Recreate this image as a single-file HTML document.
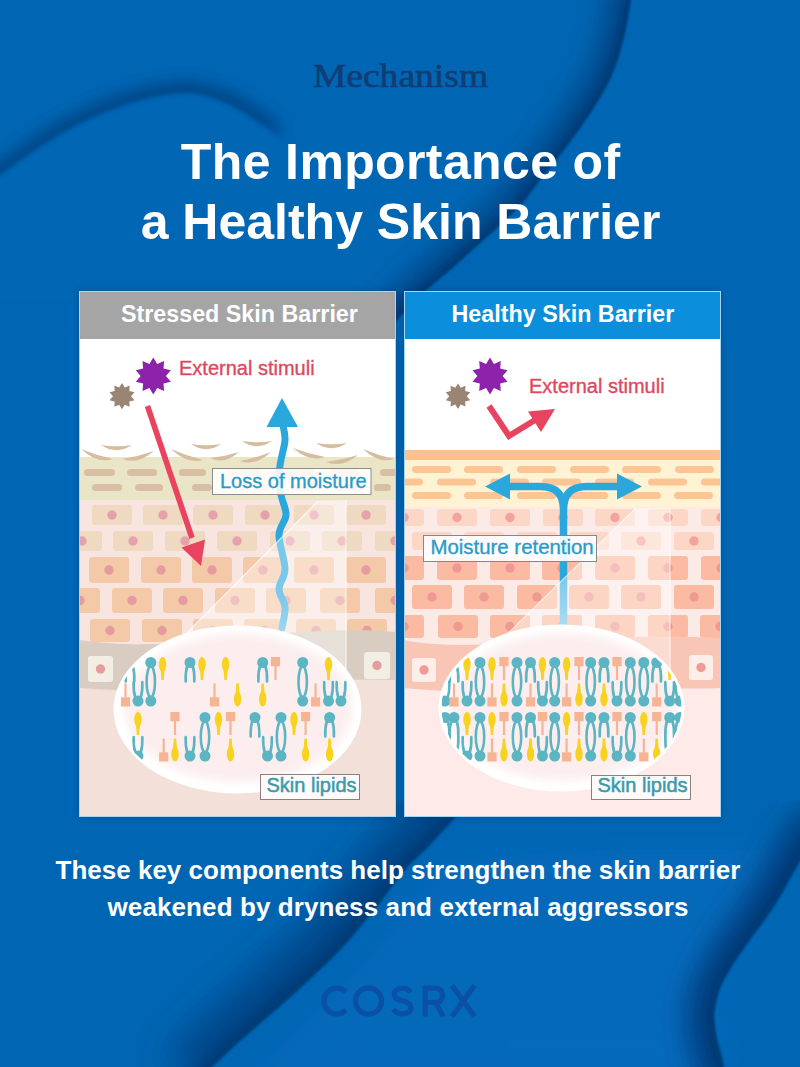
<!DOCTYPE html>
<html><head><meta charset="utf-8"><style>
html,body{margin:0;padding:0;background:#0066B3;}
body{width:800px;height:1067px;overflow:hidden;font-family:"Liberation Sans",sans-serif;}
svg{display:block}
</style></head><body>
<svg width="800" height="1067" viewBox="0 0 800 1067">

<defs>
 <filter id="b6" filterUnits="userSpaceOnUse" x="-200" y="-200" width="1200" height="1500"><feGaussianBlur stdDeviation="6"/></filter>
 <filter id="b10" filterUnits="userSpaceOnUse" x="-200" y="-200" width="1200" height="1500"><feGaussianBlur stdDeviation="10"/></filter>
 <filter id="b8" filterUnits="userSpaceOnUse" x="-200" y="-200" width="1200" height="1500"><feGaussianBlur stdDeviation="8"/></filter>
 <filter id="b14" filterUnits="userSpaceOnUse" x="-200" y="-200" width="1200" height="1500"><feGaussianBlur stdDeviation="14"/></filter>
 <filter id="b12" filterUnits="userSpaceOnUse" x="-200" y="-200" width="1200" height="1500"><feGaussianBlur stdDeviation="12"/></filter>
 <filter id="b20" filterUnits="userSpaceOnUse" x="-200" y="-200" width="1200" height="1500"><feGaussianBlur stdDeviation="20"/></filter>
 <filter id="b3" filterUnits="userSpaceOnUse" x="-200" y="-200" width="1200" height="1500"><feGaussianBlur stdDeviation="3"/></filter>
 <filter id="b05" filterUnits="userSpaceOnUse" x="-200" y="-200" width="1200" height="1500"><feGaussianBlur stdDeviation="0.6"/></filter>
 <filter id="b4" filterUnits="userSpaceOnUse" x="-200" y="-200" width="1200" height="1500"><feGaussianBlur stdDeviation="4"/></filter>
 <filter id="b2" filterUnits="userSpaceOnUse" x="-200" y="-200" width="1200" height="1500"><feGaussianBlur stdDeviation="2.2"/></filter>
 <filter id="b1" filterUnits="userSpaceOnUse" x="-200" y="-200" width="1200" height="1500"><feGaussianBlur stdDeviation="1.2"/></filter>
</defs>
<rect width="800" height="1067" fill="#0066B3"/>
<!-- soft light region in the middle/top-left -->
<path d="M0 176 C60 136 120 100 187 93 C240 100 300 150 360 190 C400 230 420 270 416 300 L0 300 Z" fill="#0B6DC2" filter="url(#b20)" opacity="0.12"/>
<path d="M180 0 H631 C625 60 600 105 570 145 C540 190 500 230 416 300 C380 250 330 160 280 100 C250 60 200 20 180 0Z" fill="none"/>
<!-- top-left fold: sharp on lower side -->
<clipPath id="cf1"><path d="M-20 -20 H330 V200 C300 160 280 135 255 120 C235 106 212 94 187 93 C150 94 110 108 75 126 C45 142 20 160 -20 190 Z"/></clipPath>
<g filter="url(#b2)"><g clip-path="url(#cf1)"><path d="M-20 190 C20 160 45 142 75 126 C110 108 150 94 187 93 C212 94 235 106 255 120 C262 125 268 130 274 136" fill="none" stroke="#003C7A" stroke-width="22" filter="url(#b8)" opacity="0.85"/></g></g>
<!-- big arc: sharp on right side -->
<clipPath id="cf2"><path d="M633 -20 C632.7 -16.7 632.5 -9.5 631 0 C629.5 9.5 627.2 24.5 624 37 C620.8 49.5 617.5 62.5 612 75 C606.5 87.5 599.0 99.5 591 112 C583.0 124.5 572.5 138.7 564 150 C555.5 161.3 548.0 170.0 540 180 C532.0 190.0 529.5 196.3 516 210 C502.5 223.7 475.7 247.0 459 262 C442.3 277.0 429.2 287.0 416 300 C402.8 313.0 389.3 329.2 380 340 C370.7 350.8 363.3 360.8 360 365 L250 365 L250 -20 Z"/></clipPath>
<g filter="url(#b1)"><g clip-path="url(#cf2)"><path d="M633 -20 C632.7 -16.7 632.5 -9.5 631 0 C629.5 9.5 627.2 24.5 624 37 C620.8 49.5 617.5 62.5 612 75 C606.5 87.5 599.0 99.5 591 112 C583.0 124.5 572.5 138.7 564 150 C555.5 161.3 548.0 170.0 540 180 C532.0 190.0 529.5 196.3 516 210 C502.5 223.7 475.7 247.0 459 262 C442.3 277.0 429.2 287.0 416 300 C402.8 313.0 389.3 329.2 380 340 C370.7 350.8 363.3 360.8 360 365" fill="none" stroke="#003D7A" stroke-width="44" filter="url(#b14)" opacity="0.85"/><path d="M633 -20 C632.7 -16.7 632.5 -9.5 631 0 C629.5 9.5 627.2 24.5 624 37 C620.8 49.5 617.5 62.5 612 75 C606.5 87.5 599.0 99.5 591 112 C583.0 124.5 572.5 138.7 564 150 C555.5 161.3 548.0 170.0 540 180 C532.0 190.0 529.5 196.3 516 210 C502.5 223.7 475.7 247.0 459 262 C442.3 277.0 429.2 287.0 416 300 C402.8 313.0 389.3 329.2 380 340 C370.7 350.8 363.3 360.8 360 365" fill="none" stroke="#00376F" stroke-width="12" filter="url(#b4)" opacity="0.8"/></g></g>
<!-- lighter sheet right of the bottom arc -->
<clipPath id="cf3b"><path d="M470 800 C468.3 802.0 466.7 804.5 460 812 C453.3 819.5 439.2 835.3 430 845 C420.8 854.7 413.7 860.0 405 870 C396.3 880.0 388.8 891.7 378 905 C367.2 918.3 353.7 935.5 340 950 C326.3 964.5 311.5 977.8 296 992 C280.5 1006.2 261.0 1022.5 247 1035 C233.0 1047.5 220.7 1058.7 212 1067 C203.3 1075.3 197.8 1082.0 195 1085 L820 1085 L820 800 Z"/></clipPath>
<g clip-path="url(#cf3b)"><path d="M440 860 C400 940 300 1020 240 1090 L730 1090 C715 1040 712 1000 730 965 C760 910 790 870 800 850 L600 850 Z" fill="#0B6EC4" filter="url(#b20)" opacity="0.45"/></g>
<!-- bottom arc: sharp on lower-right side -->
<clipPath id="cf3"><path d="M470 800 C468.3 802.0 466.7 804.5 460 812 C453.3 819.5 439.2 835.3 430 845 C420.8 854.7 413.7 860.0 405 870 C396.3 880.0 388.8 891.7 378 905 C367.2 918.3 353.7 935.5 340 950 C326.3 964.5 311.5 977.8 296 992 C280.5 1006.2 261.0 1022.5 247 1035 C233.0 1047.5 220.7 1058.7 212 1067 C203.3 1075.3 197.8 1082.0 195 1085 L0 1085 L0 800 Z"/></clipPath>
<g filter="url(#b1)"><g clip-path="url(#cf3)"><path d="M470 800 C468.3 802.0 466.7 804.5 460 812 C453.3 819.5 439.2 835.3 430 845 C420.8 854.7 413.7 860.0 405 870 C396.3 880.0 388.8 891.7 378 905 C367.2 918.3 353.7 935.5 340 950 C326.3 964.5 311.5 977.8 296 992 C280.5 1006.2 261.0 1022.5 247 1035 C233.0 1047.5 220.7 1058.7 212 1067 C203.3 1075.3 197.8 1082.0 195 1085" fill="none" stroke="#003A78" stroke-width="80" filter="url(#b20)" opacity="0.8"/><path d="M470 800 C468.3 802.0 466.7 804.5 460 812 C453.3 819.5 439.2 835.3 430 845 C420.8 854.7 413.7 860.0 405 870 C396.3 880.0 388.8 891.7 378 905 C367.2 918.3 353.7 935.5 340 950 C326.3 964.5 311.5 977.8 296 992 C280.5 1006.2 261.0 1022.5 247 1035 C233.0 1047.5 220.7 1058.7 212 1067 C203.3 1075.3 197.8 1082.0 195 1085" fill="none" stroke="#00376F" stroke-width="18" filter="url(#b6)" opacity="0.7"/></g></g>
<!-- bottom-right fold: sharp on right side -->
<clipPath id="cf4"><path d="M600 800 H820 V830 C805 850 790 880 775 905 C765 920 757 930 750 940 C742 952 735 960 730 970 C722 982 719 990 717 1000 C714 1010 714 1018 715 1025 C716 1035 718 1043 720 1050 C722 1058 724 1062 725 1080 L600 1080 Z"/></clipPath>
<g filter="url(#b1)"><g clip-path="url(#cf4)"><path d="M825 820 C805 850 790 880 775 905 C765 920 757 930 750 940 C742 952 735 960 730 970 C722 982 719 990 717 1000 C714 1010 714 1018 715 1025 C716 1035 718 1043 720 1050 C722 1058 724 1062 726 1085" fill="none" stroke="#003A78" stroke-width="56" filter="url(#b14)" opacity="0.9"/><path d="M825 820 C805 850 790 880 775 905 C765 920 757 930 750 940 C742 952 735 960 730 970 C722 982 719 990 717 1000 C714 1010 714 1018 715 1025 C716 1035 718 1043 720 1050 C722 1058 724 1062 726 1085" fill="none" stroke="#00376F" stroke-width="18" filter="url(#b6)" opacity="0.7"/></g></g>
<rect x="79" y="291" width="317" height="526" fill="#002A5A" opacity="0.35" filter="url(#b3)"/><rect x="404" y="291" width="317" height="526" fill="#002A5A" opacity="0.35" filter="url(#b3)"/><clipPath id="clipL"><rect x="79" y="291" width="317" height="526"/></clipPath><clipPath id="clipR"><rect x="404" y="291" width="317" height="526"/></clipPath><rect x="79" y="291" width="317" height="526" fill="#fff"/><rect x="79" y="291" width="317" height="48" fill="#A5A5A5"/><text x="239.4" y="322" text-anchor="middle" font-family="Liberation Sans" font-weight="bold" font-size="23.3" fill="#fff">Stressed Skin Barrier</text><rect x="404" y="291" width="317" height="526" fill="#fff"/><rect x="404" y="291" width="317" height="48" fill="#0B8FDC"/><text x="562.9" y="322" text-anchor="middle" font-family="Liberation Sans" font-weight="bold" font-size="23.3" fill="#fff">Healthy Skin Barrier</text><g clip-path="url(#clipL)"><rect x="79" y="457" width="317" height="44" fill="#EBE5C7"/><rect x="79" y="500" width="317" height="158" fill="#F8E5DF"/><rect x="79" y="658" width="317" height="159" fill="#F2E0D9"/><rect x="92" y="505" width="40" height="20" rx="3" fill="#EFD9C0"/><circle cx="112.0" cy="515.0" r="4.7" fill="#E5A2AC"/><rect x="143" y="505" width="40" height="20" rx="3" fill="#EFD9C0"/><circle cx="163.0" cy="515.0" r="4.7" fill="#E5A2AC"/><rect x="193" y="505" width="40" height="20" rx="3" fill="#EFD9C0"/><circle cx="213.0" cy="515.0" r="4.7" fill="#E5A2AC"/><rect x="245" y="505" width="40" height="20" rx="3" fill="#EFD9C0"/><circle cx="265.0" cy="515.0" r="4.7" fill="#E5A2AC"/><rect x="294" y="505" width="40" height="20" rx="3" fill="#EFD9C0"/><circle cx="314.0" cy="515.0" r="4.7" fill="#E5A2AC"/><rect x="346" y="505" width="40" height="20" rx="3" fill="#EFD9C0"/><circle cx="366.0" cy="515.0" r="4.7" fill="#E5A2AC"/><rect x="62" y="531" width="40" height="20" rx="3" fill="#EFD9C0"/><circle cx="82.0" cy="541.0" r="4.7" fill="#E5A2AC"/><rect x="113" y="531" width="40" height="20" rx="3" fill="#EFD9C0"/><circle cx="133.0" cy="541.0" r="4.7" fill="#E5A2AC"/><rect x="165" y="531" width="40" height="20" rx="3" fill="#EFD9C0"/><circle cx="185.0" cy="541.0" r="4.7" fill="#E5A2AC"/><rect x="217" y="531" width="40" height="20" rx="3" fill="#EFD9C0"/><circle cx="237.0" cy="541.0" r="4.7" fill="#E5A2AC"/><rect x="270" y="531" width="40" height="20" rx="3" fill="#EFD9C0"/><circle cx="290.0" cy="541.0" r="4.7" fill="#E5A2AC"/><rect x="322" y="531" width="40" height="20" rx="3" fill="#EFD9C0"/><circle cx="342.0" cy="541.0" r="4.7" fill="#E5A2AC"/><rect x="375" y="531" width="40" height="20" rx="3" fill="#EFD9C0"/><circle cx="395.0" cy="541.0" r="4.7" fill="#E5A2AC"/><rect x="89" y="557" width="40" height="26" rx="3" fill="#F4C9A8"/><circle cx="109.0" cy="570.0" r="4.7" fill="#E59C9E"/><rect x="141" y="557" width="40" height="26" rx="3" fill="#F4C9A8"/><circle cx="161.0" cy="570.0" r="4.7" fill="#E59C9E"/><rect x="192" y="557" width="40" height="26" rx="3" fill="#F4C9A8"/><circle cx="212.0" cy="570.0" r="4.7" fill="#E59C9E"/><rect x="243" y="557" width="40" height="26" rx="3" fill="#F4C9A8"/><circle cx="263.0" cy="570.0" r="4.7" fill="#E59C9E"/><rect x="294" y="557" width="40" height="26" rx="3" fill="#F4C9A8"/><circle cx="314.0" cy="570.0" r="4.7" fill="#E59C9E"/><rect x="346" y="557" width="40" height="26" rx="3" fill="#F4C9A8"/><circle cx="366.0" cy="570.0" r="4.7" fill="#E59C9E"/><rect x="60" y="588" width="40" height="25" rx="3" fill="#F4C9A8"/><circle cx="80.0" cy="600.5" r="4.7" fill="#E59C9E"/><rect x="112" y="588" width="40" height="25" rx="3" fill="#F4C9A8"/><circle cx="132.0" cy="600.5" r="4.7" fill="#E59C9E"/><rect x="163" y="588" width="40" height="25" rx="3" fill="#F4C9A8"/><circle cx="183.0" cy="600.5" r="4.7" fill="#E59C9E"/><rect x="215" y="588" width="40" height="25" rx="3" fill="#F4C9A8"/><circle cx="235.0" cy="600.5" r="4.7" fill="#E59C9E"/><rect x="266" y="588" width="40" height="25" rx="3" fill="#F4C9A8"/><circle cx="286.0" cy="600.5" r="4.7" fill="#E59C9E"/><rect x="320" y="588" width="40" height="25" rx="3" fill="#F4C9A8"/><circle cx="340.0" cy="600.5" r="4.7" fill="#E59C9E"/><rect x="375" y="588" width="40" height="25" rx="3" fill="#F4C9A8"/><circle cx="395.0" cy="600.5" r="4.7" fill="#E59C9E"/><rect x="90" y="619" width="40" height="23" rx="3" fill="#F4C9A8"/><circle cx="110.0" cy="630.5" r="4.7" fill="#E59C9E"/><rect x="142" y="619" width="40" height="23" rx="3" fill="#F4C9A8"/><circle cx="162.0" cy="630.5" r="4.7" fill="#E59C9E"/><rect x="193" y="619" width="40" height="23" rx="3" fill="#F4C9A8"/><circle cx="213.0" cy="630.5" r="4.7" fill="#E59C9E"/><rect x="244" y="619" width="40" height="23" rx="3" fill="#F4C9A8"/><circle cx="264.0" cy="630.5" r="4.7" fill="#E59C9E"/><rect x="296" y="619" width="40" height="23" rx="3" fill="#F4C9A8"/><circle cx="316.0" cy="630.5" r="4.7" fill="#E59C9E"/><rect x="347" y="619" width="40" height="23" rx="3" fill="#F4C9A8"/><circle cx="367.0" cy="630.5" r="4.7" fill="#E59C9E"/><path d="M79 640 C150 650 200 640 250 636 C300 632 350 628 396 632 L396 680 C350 678 300 682 250 688 C200 694 140 692 79 688 Z" fill="#D9CDC1"/><rect x="88" y="656" width="25" height="26" rx="3" fill="#F3EEE3"/><circle cx="100.5" cy="669" r="4.7" fill="#E59C9E"/><rect x="364" y="652" width="26" height="27" rx="3" fill="#F3EEE3"/><circle cx="377" cy="665.5" r="4.7" fill="#E59C9E"/><rect x="84" y="469" width="31" height="7" rx="3.5" fill="#D8BEA2"/><rect x="127" y="469" width="30" height="7" rx="3.5" fill="#D8BEA2"/><rect x="179" y="469" width="27" height="7" rx="3.5" fill="#D8BEA2"/><rect x="232" y="469" width="30" height="7" rx="3.5" fill="#D8BEA2"/><rect x="284" y="469" width="30" height="7" rx="3.5" fill="#D8BEA2"/><rect x="329" y="469" width="30" height="7" rx="3.5" fill="#D8BEA2"/><rect x="380" y="469" width="20" height="7" rx="3.5" fill="#D8BEA2"/><rect x="92" y="484" width="30" height="7" rx="3.5" fill="#D8BEA2"/><rect x="135" y="484" width="28" height="7" rx="3.5" fill="#D8BEA2"/><rect x="192" y="484" width="20" height="7" rx="3.5" fill="#D8BEA2"/><rect x="240" y="484" width="30" height="7" rx="3.5" fill="#D8BEA2"/><rect x="290" y="484" width="30" height="7" rx="3.5" fill="#D8BEA2"/><rect x="335" y="484" width="30" height="7" rx="3.5" fill="#D8BEA2"/><rect x="374" y="484" width="17" height="7" rx="3.5" fill="#D8BEA2"/><path d="M101.0 445.0 Q116.5 455.4 132.0 445.0 Q116.5 447.4 101.0 445.0Z" fill="#D6BDA0"/><path d="M191.0 444.0 Q206.0 454.4 221.0 444.0 Q206.0 446.4 191.0 444.0Z" fill="#D6BDA0"/><path d="M242.0 441.0 Q257.0 451.4 272.0 441.0 Q257.0 443.4 242.0 441.0Z" fill="#D6BDA0"/><path d="M316.0 443.0 Q331.5 453.4 347.0 443.0 Q331.5 445.4 316.0 443.0Z" fill="#D6BDA0"/><path d="M81.0 449.0 Q97.0 464.0 113.0 459.0 Q97.0 455.6 81.0 449.0Z" fill="#D6BDA0"/><path d="M122.0 459.0 Q138.0 465.0 154.0 451.0 Q138.0 456.6 122.0 459.0Z" fill="#D6BDA0"/><path d="M171.0 449.0 Q187.0 464.5 203.0 460.0 Q187.0 456.1 171.0 449.0Z" fill="#D6BDA0"/><path d="M210.0 458.0 Q224.5 465.0 239.0 452.0 Q224.5 456.6 210.0 458.0Z" fill="#D6BDA0"/><path d="M240.0 461.0 Q255.5 466.5 271.0 452.0 Q255.5 458.1 240.0 461.0Z" fill="#D6BDA0"/><path d="M293.0 448.0 Q309.0 462.5 325.0 457.0 Q309.0 454.1 293.0 448.0Z" fill="#D6BDA0"/><path d="M326.0 462.0 Q342.0 468.5 358.0 455.0 Q342.0 460.1 326.0 462.0Z" fill="#D6BDA0"/><path d="M363.0 449.0 Q378.5 464.0 394.0 459.0 Q378.5 455.6 363.0 449.0Z" fill="#D6BDA0"/><line x1="147.5" y1="406" x2="192" y2="538" stroke="#E8435F" stroke-width="5.6"/><polygon points="201,566 181.5,547.5 205,539.5" fill="#E8435F"/><defs><linearGradient id="stemL" x1="0" y1="0" x2="0" y2="1"><stop offset="0" stop-color="#2AA8DD"/><stop offset="0.85" stop-color="#2AA8DD"/><stop offset="1" stop-color="#5DBDE6"/></linearGradient></defs><path d="M283 425 C283.3 427.5 285.3 434.2 285 440 C284.7 445.8 282.0 454.2 281 460 C280.0 465.8 279.0 469.2 279 475 C279.0 480.8 279.8 488.3 281 495 C282.2 501.7 286.3 508.3 286 515 C285.7 521.7 279.2 526.0 279 535 C278.8 544.0 285.0 560.0 285 569 C285.0 578.0 279.0 582.7 279 589 C279.0 595.3 284.5 600.5 285 607 C285.5 613.5 282.5 624.5 282 628" fill="none" stroke="url(#stemL)" stroke-width="7" stroke-linecap="round"/><polygon points="282,398 266.5,427 298,427" fill="#2AA8DD"/><polygon points="318,501 346,500 346,690 120,700" fill="#ffffff" opacity="0.38"/><line x1="346" y1="500" x2="346" y2="690" stroke="#fff" stroke-width="1.2" opacity="0.7"/><line x1="318" y1="501" x2="130" y2="690" stroke="#fff" stroke-width="1.2" opacity="0.7"/><ellipse cx="237.5" cy="709.5" rx="124" ry="84" fill="#ffffff" filter="url(#b05)"/><ellipse cx="238.5" cy="708" rx="114" ry="74" fill="#FCEEEE" filter="url(#b4)"/><clipPath id="bubL"><ellipse cx="237.5" cy="709.5" rx="121" ry="82"/></clipPath><g clip-path="url(#bubL)"><rect x="120.9" y="697.3" width="9.2" height="9.2" fill="#F5B594"/><rect x="124.4" y="683.5" width="2.2" height="14" fill="#F5B594"/><circle cx="130" cy="662.5" r="5.5" fill="#5BB5C2"/><path d="M127.4 665.5 Q125.2 672.5 125.7 681.5 M132.6 665.5 Q134.8 672.5 134.3 681.5" fill="none" stroke="#5BB5C2" stroke-width="2.6" stroke-linecap="round"/><circle cx="138" cy="701.0" r="5.5" fill="#5BB5C2"/><path d="M135.4 698.0 Q133.2 691.0 133.7 682.0 M140.6 698.0 Q142.8 691.0 142.3 682.0" fill="none" stroke="#5BB5C2" stroke-width="2.6" stroke-linecap="round"/><circle cx="150.8" cy="662.5" r="5.5" fill="#5BB5C2"/><circle cx="150.8" cy="701.0" r="5.5" fill="#5BB5C2"/><ellipse cx="150.8" cy="681.75" rx="4.2" ry="15.5" fill="none" stroke="#5BB5C2" stroke-width="2.6"/><ellipse cx="162.6" cy="664.5" rx="3.7" ry="7.5" fill="#F7D21E"/><path d="M160.6 669 L161.4 680 H163.79999999999998 L164.6 669Z" fill="#F7D21E"/><circle cx="190" cy="662.5" r="5.5" fill="#5BB5C2"/><path d="M187.4 665.5 Q185.2 672.5 185.7 681.5 M192.6 665.5 Q194.8 672.5 194.3 681.5" fill="none" stroke="#5BB5C2" stroke-width="2.6" stroke-linecap="round"/><ellipse cx="202" cy="664.5" rx="3.7" ry="7.5" fill="#F7D21E"/><path d="M200 669 L200.8 680 H203.2 L204 669Z" fill="#F7D21E"/><rect x="209.9" y="697.3" width="9.2" height="9.2" fill="#F5B594"/><rect x="213.4" y="683.5" width="2.2" height="14" fill="#F5B594"/><ellipse cx="225.6" cy="664.5" rx="3.7" ry="7.5" fill="#F7D21E"/><path d="M223.6 669 L224.4 680 H226.79999999999998 L227.6 669Z" fill="#F7D21E"/><ellipse cx="237.6" cy="699.0" rx="3.7" ry="7.5" fill="#F7D21E"/><path d="M235.6 694.5 L236.4 683.5 H238.79999999999998 L239.6 694.5Z" fill="#F7D21E"/><circle cx="262.7" cy="662.5" r="5.5" fill="#5BB5C2"/><path d="M260.09999999999997 665.5 Q257.9 672.5 258.4 681.5 M265.3 665.5 Q267.5 672.5 267.0 681.5" fill="none" stroke="#5BB5C2" stroke-width="2.6" stroke-linecap="round"/><ellipse cx="262.7" cy="699.0" rx="3.7" ry="7.5" fill="#F7D21E"/><path d="M260.7 694.5 L261.5 683.5 H263.9 L264.7 694.5Z" fill="#F7D21E"/><rect x="270.9" y="657" width="9.2" height="9.2" fill="#F5B594"/><rect x="274.4" y="666" width="2.2" height="14" fill="#F5B594"/><circle cx="302.7" cy="662.5" r="5.5" fill="#5BB5C2"/><circle cx="302.7" cy="701.0" r="5.5" fill="#5BB5C2"/><ellipse cx="302.7" cy="681.75" rx="4.2" ry="15.5" fill="none" stroke="#5BB5C2" stroke-width="2.6"/><rect x="311.0" y="697.3" width="9.2" height="9.2" fill="#F5B594"/><rect x="314.5" y="683.5" width="2.2" height="14" fill="#F5B594"/><ellipse cx="328.5" cy="664.5" rx="3.7" ry="7.5" fill="#F7D21E"/><path d="M326.5 669 L327.3 680 H329.7 L330.5 669Z" fill="#F7D21E"/><circle cx="328.5" cy="701.0" r="5.5" fill="#5BB5C2"/><path d="M325.9 698.0 Q323.7 691.0 324.2 682.0 M331.1 698.0 Q333.3 691.0 332.8 682.0" fill="none" stroke="#5BB5C2" stroke-width="2.6" stroke-linecap="round"/><circle cx="341" cy="701.0" r="5.5" fill="#5BB5C2"/><path d="M338.4 698.0 Q336.2 691.0 336.7 682.0 M343.6 698.0 Q345.8 691.0 345.3 682.0" fill="none" stroke="#5BB5C2" stroke-width="2.6" stroke-linecap="round"/><ellipse cx="138" cy="719.5" rx="3.7" ry="7.5" fill="#F7D21E"/><path d="M136 724 L136.8 735 H139.2 L140 724Z" fill="#F7D21E"/><circle cx="138" cy="756.0" r="5.5" fill="#5BB5C2"/><path d="M135.4 753.0 Q133.2 746.0 133.7 737.0 M140.6 753.0 Q142.8 746.0 142.3 737.0" fill="none" stroke="#5BB5C2" stroke-width="2.6" stroke-linecap="round"/><rect x="159.1" y="752.3" width="9.2" height="9.2" fill="#F5B594"/><rect x="162.6" y="738.5" width="2.2" height="14" fill="#F5B594"/><rect x="170.4" y="712" width="9.2" height="9.2" fill="#F5B594"/><rect x="173.9" y="721" width="2.2" height="14" fill="#F5B594"/><ellipse cx="175" cy="754.0" rx="3.7" ry="7.5" fill="#F7D21E"/><path d="M173 749.5 L173.8 738.5 H176.2 L177 749.5Z" fill="#F7D21E"/><circle cx="190" cy="756.0" r="5.5" fill="#5BB5C2"/><path d="M187.4 753.0 Q185.2 746.0 185.7 737.0 M192.6 753.0 Q194.8 746.0 194.3 737.0" fill="none" stroke="#5BB5C2" stroke-width="2.6" stroke-linecap="round"/><circle cx="205" cy="717.5" r="5.5" fill="#5BB5C2"/><circle cx="205" cy="756.0" r="5.5" fill="#5BB5C2"/><ellipse cx="205" cy="736.75" rx="4.2" ry="15.5" fill="none" stroke="#5BB5C2" stroke-width="2.6"/><ellipse cx="218.5" cy="719.5" rx="3.7" ry="7.5" fill="#F7D21E"/><path d="M216.5 724 L217.3 735 H219.7 L220.5 724Z" fill="#F7D21E"/><rect x="225.9" y="712" width="9.2" height="9.2" fill="#F5B594"/><rect x="229.4" y="721" width="2.2" height="14" fill="#F5B594"/><ellipse cx="230.5" cy="754.0" rx="3.7" ry="7.5" fill="#F7D21E"/><path d="M228.5 749.5 L229.3 738.5 H231.7 L232.5 749.5Z" fill="#F7D21E"/><circle cx="255" cy="717.5" r="5.5" fill="#5BB5C2"/><path d="M252.4 720.5 Q250.2 727.5 250.7 736.5 M257.6 720.5 Q259.8 727.5 259.3 736.5" fill="none" stroke="#5BB5C2" stroke-width="2.6" stroke-linecap="round"/><circle cx="267.5" cy="756.0" r="5.5" fill="#5BB5C2"/><path d="M264.9 753.0 Q262.7 746.0 263.2 737.0 M270.1 753.0 Q272.3 746.0 271.8 737.0" fill="none" stroke="#5BB5C2" stroke-width="2.6" stroke-linecap="round"/><circle cx="281" cy="717.5" r="5.5" fill="#5BB5C2"/><circle cx="281" cy="756.0" r="5.5" fill="#5BB5C2"/><ellipse cx="281" cy="736.75" rx="4.2" ry="15.5" fill="none" stroke="#5BB5C2" stroke-width="2.6"/><ellipse cx="294" cy="719.5" rx="3.7" ry="7.5" fill="#F7D21E"/><path d="M292 724 L292.8 735 H295.2 L296 724Z" fill="#F7D21E"/><rect x="301.0" y="712" width="9.2" height="9.2" fill="#F5B594"/><rect x="304.5" y="721" width="2.2" height="14" fill="#F5B594"/><ellipse cx="305.6" cy="754.0" rx="3.7" ry="7.5" fill="#F7D21E"/><path d="M303.6 749.5 L304.40000000000003 738.5 H306.8 L307.6 749.5Z" fill="#F7D21E"/><circle cx="329.6" cy="717.5" r="5.5" fill="#5BB5C2"/><path d="M327.0 720.5 Q324.8 727.5 325.3 736.5 M332.20000000000005 720.5 Q334.40000000000003 727.5 333.90000000000003 736.5" fill="none" stroke="#5BB5C2" stroke-width="2.6" stroke-linecap="round"/><ellipse cx="329.6" cy="754.0" rx="3.7" ry="7.5" fill="#F7D21E"/><path d="M327.6 749.5 L328.40000000000003 738.5 H330.8 L331.6 749.5Z" fill="#F7D21E"/></g></g><rect x="212.5" y="468.5" width="158.5" height="26" fill="#ffffff" fill-opacity="0.88" stroke="#8E8E8E" stroke-width="1"/><text x="220" y="488" font-family="Liberation Sans" font-size="20" fill="#2A9BC8" stroke="#2A9BC8" stroke-width="0.35">Loss of moisture</text><rect x="260.5" y="774.5" width="99" height="25" fill="#FDFAF9" stroke="#8C7F80" stroke-width="1"/><text x="266.5" y="791.8" font-family="Liberation Sans" font-size="20" fill="#3A9BAB" stroke="#3A9BAB" stroke-width="0.5">Skin lipids</text><polygon points="153.3,357.6 157.2,364.0 164.1,361.1 163.5,368.6 170.8,370.3 165.9,376.0 170.8,381.7 163.5,383.4 164.1,390.9 157.2,388.0 153.3,394.4 149.4,388.0 142.5,390.9 143.1,383.4 135.8,381.7 140.7,376.0 135.8,370.3 143.1,368.6 142.5,361.1 149.4,364.0" fill="#8C23AA"/><polygon points="122.0,383.1 124.8,387.6 129.7,385.6 129.3,390.9 134.5,392.2 131.0,396.2 134.5,400.2 129.3,401.5 129.7,406.8 124.8,404.8 122.0,409.3 119.2,404.8 114.3,406.8 114.7,401.5 109.5,400.2 113.0,396.2 109.5,392.2 114.7,390.9 114.3,385.6 119.2,387.6" fill="#9A8574"/><text x="179" y="374.5" font-family="Liberation Sans" font-size="20" fill="#DE4760" stroke="#DE4760" stroke-width="0.35">External stimuli</text><g clip-path="url(#clipR)"><rect x="404" y="450" width="317" height="10" fill="#FDC18E"/><rect x="404" y="460" width="317" height="48" fill="#FFF3D4"/><rect x="404" y="507" width="317" height="150" fill="#FCEAE7"/><rect x="404" y="657" width="317" height="160" fill="#FDEAE9"/><rect x="412" y="466" width="39" height="7" rx="3.5" fill="#FDC594"/><rect x="464" y="466" width="39" height="7" rx="3.5" fill="#FDC594"/><rect x="517" y="466" width="39" height="7" rx="3.5" fill="#FDC594"/><rect x="570" y="466" width="39" height="7" rx="3.5" fill="#FDC594"/><rect x="622" y="466" width="39" height="7" rx="3.5" fill="#FDC594"/><rect x="675" y="466" width="39" height="7" rx="3.5" fill="#FDC594"/><rect x="384" y="478.5" width="39" height="7" rx="3.5" fill="#FDC594"/><rect x="437" y="478.5" width="39" height="7" rx="3.5" fill="#FDC594"/><rect x="490" y="478.5" width="39" height="7" rx="3.5" fill="#FDC594"/><rect x="542" y="478.5" width="39" height="7" rx="3.5" fill="#FDC594"/><rect x="595" y="478.5" width="39" height="7" rx="3.5" fill="#FDC594"/><rect x="648" y="478.5" width="39" height="7" rx="3.5" fill="#FDC594"/><rect x="701" y="478.5" width="39" height="7" rx="3.5" fill="#FDC594"/><rect x="412" y="492" width="39" height="7" rx="3.5" fill="#FDC594"/><rect x="464" y="492" width="39" height="7" rx="3.5" fill="#FDC594"/><rect x="517" y="492" width="39" height="7" rx="3.5" fill="#FDC594"/><rect x="569" y="492" width="39" height="7" rx="3.5" fill="#FDC594"/><rect x="622" y="492" width="39" height="7" rx="3.5" fill="#FDC594"/><rect x="674" y="492" width="39" height="7" rx="3.5" fill="#FDC594"/><rect x="384" y="509" width="40" height="17" rx="3" fill="#FCD7C5"/><circle cx="404.0" cy="517.5" r="4.7" fill="#F2A3A0"/><rect x="437" y="509" width="40" height="17" rx="3" fill="#FCD7C5"/><circle cx="457.0" cy="517.5" r="4.7" fill="#F2A3A0"/><rect x="490" y="509" width="40" height="17" rx="3" fill="#FCD7C5"/><circle cx="510.0" cy="517.5" r="4.7" fill="#F2A3A0"/><rect x="543" y="509" width="40" height="17" rx="3" fill="#FCD7C5"/><circle cx="563.0" cy="517.5" r="4.7" fill="#F2A3A0"/><rect x="595" y="509" width="40" height="17" rx="3" fill="#FCD7C5"/><circle cx="615.0" cy="517.5" r="4.7" fill="#F2A3A0"/><rect x="648" y="509" width="40" height="17" rx="3" fill="#FCD7C5"/><circle cx="668.0" cy="517.5" r="4.7" fill="#F2A3A0"/><rect x="701" y="509" width="40" height="17" rx="3" fill="#FCD7C5"/><circle cx="721.0" cy="517.5" r="4.7" fill="#F2A3A0"/><rect x="359" y="532" width="40" height="18" rx="3" fill="#FCD7C5"/><circle cx="379.0" cy="541.0" r="4.7" fill="#F2A3A0"/><rect x="412" y="532" width="40" height="18" rx="3" fill="#FCD7C5"/><circle cx="432.0" cy="541.0" r="4.7" fill="#F2A3A0"/><rect x="464" y="532" width="40" height="18" rx="3" fill="#FCD7C5"/><circle cx="484.0" cy="541.0" r="4.7" fill="#F2A3A0"/><rect x="517" y="532" width="40" height="18" rx="3" fill="#FCD7C5"/><circle cx="537.0" cy="541.0" r="4.7" fill="#F2A3A0"/><rect x="569" y="532" width="40" height="18" rx="3" fill="#FCD7C5"/><circle cx="589.0" cy="541.0" r="4.7" fill="#F2A3A0"/><rect x="621" y="532" width="40" height="18" rx="3" fill="#FCD7C5"/><circle cx="641.0" cy="541.0" r="4.7" fill="#F2A3A0"/><rect x="674" y="532" width="40" height="18" rx="3" fill="#FCD7C5"/><circle cx="694.0" cy="541.0" r="4.7" fill="#F2A3A0"/><rect x="384" y="556" width="40" height="24" rx="3" fill="#FBBBA2"/><circle cx="404.0" cy="568.0" r="4.7" fill="#EE9A92"/><rect x="437" y="556" width="40" height="24" rx="3" fill="#FBBBA2"/><circle cx="457.0" cy="568.0" r="4.7" fill="#EE9A92"/><rect x="490" y="556" width="40" height="24" rx="3" fill="#FBBBA2"/><circle cx="510.0" cy="568.0" r="4.7" fill="#EE9A92"/><rect x="542" y="556" width="40" height="24" rx="3" fill="#FBBBA2"/><circle cx="562.0" cy="568.0" r="4.7" fill="#EE9A92"/><rect x="595" y="556" width="40" height="24" rx="3" fill="#FBBBA2"/><circle cx="615.0" cy="568.0" r="4.7" fill="#EE9A92"/><rect x="648" y="556" width="40" height="24" rx="3" fill="#FBBBA2"/><circle cx="668.0" cy="568.0" r="4.7" fill="#EE9A92"/><rect x="701" y="556" width="40" height="24" rx="3" fill="#FBBBA2"/><circle cx="721.0" cy="568.0" r="4.7" fill="#EE9A92"/><rect x="359" y="585" width="40" height="24" rx="3" fill="#FBBBA2"/><circle cx="379.0" cy="597.0" r="4.7" fill="#EE9A92"/><rect x="412" y="585" width="40" height="24" rx="3" fill="#FBBBA2"/><circle cx="432.0" cy="597.0" r="4.7" fill="#EE9A92"/><rect x="464" y="585" width="40" height="24" rx="3" fill="#FBBBA2"/><circle cx="484.0" cy="597.0" r="4.7" fill="#EE9A92"/><rect x="517" y="585" width="40" height="24" rx="3" fill="#FBBBA2"/><circle cx="537.0" cy="597.0" r="4.7" fill="#EE9A92"/><rect x="569" y="585" width="40" height="24" rx="3" fill="#FBBBA2"/><circle cx="589.0" cy="597.0" r="4.7" fill="#EE9A92"/><rect x="621" y="585" width="40" height="24" rx="3" fill="#FBBBA2"/><circle cx="641.0" cy="597.0" r="4.7" fill="#EE9A92"/><rect x="674" y="585" width="40" height="24" rx="3" fill="#FBBBA2"/><circle cx="694.0" cy="597.0" r="4.7" fill="#EE9A92"/><rect x="384" y="615" width="40" height="23" rx="3" fill="#FBBBA2"/><circle cx="404.0" cy="626.5" r="4.7" fill="#EE9A92"/><rect x="438" y="615" width="40" height="23" rx="3" fill="#FBBBA2"/><circle cx="458.0" cy="626.5" r="4.7" fill="#EE9A92"/><rect x="490" y="615" width="40" height="23" rx="3" fill="#FBBBA2"/><circle cx="510.0" cy="626.5" r="4.7" fill="#EE9A92"/><rect x="542" y="615" width="40" height="23" rx="3" fill="#FBBBA2"/><circle cx="562.0" cy="626.5" r="4.7" fill="#EE9A92"/><rect x="595" y="615" width="40" height="23" rx="3" fill="#FBBBA2"/><circle cx="615.0" cy="626.5" r="4.7" fill="#EE9A92"/><rect x="648" y="615" width="40" height="23" rx="3" fill="#FBBBA2"/><circle cx="668.0" cy="626.5" r="4.7" fill="#EE9A92"/><rect x="700" y="615" width="40" height="23" rx="3" fill="#FBBBA2"/><circle cx="720.0" cy="626.5" r="4.7" fill="#EE9A92"/><path d="M404 640 C450 650 520 642 560 640 C620 636 680 636 721 638 L721 688 C680 690 620 686 560 690 C500 694 450 692 404 688 Z" fill="#F9C6B6"/><rect x="412" y="658" width="24" height="24" rx="3" fill="#FDEEEA"/><circle cx="424" cy="670" r="4.7" fill="#F09A98"/><rect x="689" y="655" width="24" height="25" rx="3" fill="#FDEEEA"/><circle cx="701" cy="667.5" r="4.7" fill="#F09A98"/><defs><linearGradient id="stemR" x1="0" y1="0" x2="0" y2="1"><stop offset="0" stop-color="#2AA8DD"/><stop offset="0.6" stop-color="#2AA8DD"/><stop offset="1" stop-color="#8FD3EE"/></linearGradient></defs><path d="M563.5 640 V510 C563.5 494 556 486.5 540 486.5 H505 M563.5 510 C563.5 494 571 486.5 587 486.5 H622" fill="none" stroke="url(#stemR)" stroke-width="7.5"/><polygon points="485,486.5 510,473.5 510,499.5" fill="#2AA8DD"/><polygon points="642,486.5 617,473.5 617,499.5" fill="#2AA8DD"/><polyline points="489,406 509,436 540,417" fill="none" stroke="#E8435F" stroke-width="6" stroke-linejoin="miter"/><polygon points="555,409 528,411.5 541,432" fill="#E8435F"/><polygon points="636,508 670,508 670,680 440,700" fill="#ffffff" opacity="0.38"/><line x1="670" y1="508" x2="670" y2="680" stroke="#fff" stroke-width="1.2" opacity="0.7"/><line x1="636" y1="508" x2="450" y2="690" stroke="#fff" stroke-width="1.2" opacity="0.7"/><ellipse cx="561.5" cy="708" rx="123" ry="83.5" fill="#ffffff" filter="url(#b05)"/><ellipse cx="562.5" cy="707" rx="113" ry="73.5" fill="#FCEEEE" filter="url(#b4)"/><clipPath id="bubR"><ellipse cx="561.5" cy="708" rx="120" ry="81"/></clipPath><g clip-path="url(#bubR)"><circle cx="445" cy="662.5" r="5.5" fill="#5BB5C2"/><path d="M442.4 665.5 Q440.2 672.5 440.7 681.5 M447.6 665.5 Q449.8 672.5 449.3 681.5" fill="none" stroke="#5BB5C2" stroke-width="2.6" stroke-linecap="round"/><circle cx="445" cy="701.0" r="5.5" fill="#5BB5C2"/><path d="M442.4 698.0 Q440.2 691.0 440.7 682.0 M447.6 698.0 Q449.8 691.0 449.3 682.0" fill="none" stroke="#5BB5C2" stroke-width="2.6" stroke-linecap="round"/><circle cx="454" cy="662.5" r="5.5" fill="#5BB5C2"/><path d="M451.4 665.5 Q449.2 672.5 449.7 681.5 M456.6 665.5 Q458.8 672.5 458.3 681.5" fill="none" stroke="#5BB5C2" stroke-width="2.6" stroke-linecap="round"/><rect x="449.4" y="697.3" width="9.2" height="9.2" fill="#F5B594"/><rect x="452.9" y="683.5" width="2.2" height="14" fill="#F5B594"/><ellipse cx="467" cy="664.5" rx="3.7" ry="7.5" fill="#F7D21E"/><path d="M465 669 L465.8 680 H468.2 L469 669Z" fill="#F7D21E"/><circle cx="467" cy="701.0" r="5.5" fill="#5BB5C2"/><path d="M464.4 698.0 Q462.2 691.0 462.7 682.0 M469.6 698.0 Q471.8 691.0 471.3 682.0" fill="none" stroke="#5BB5C2" stroke-width="2.6" stroke-linecap="round"/><circle cx="480" cy="662.5" r="5.5" fill="#5BB5C2"/><circle cx="480" cy="701.0" r="5.5" fill="#5BB5C2"/><ellipse cx="480" cy="681.75" rx="4.2" ry="15.5" fill="none" stroke="#5BB5C2" stroke-width="2.6"/><ellipse cx="492" cy="664.5" rx="3.7" ry="7.5" fill="#F7D21E"/><path d="M490 669 L490.8 680 H493.2 L494 669Z" fill="#F7D21E"/><rect x="487.4" y="697.3" width="9.2" height="9.2" fill="#F5B594"/><rect x="490.9" y="683.5" width="2.2" height="14" fill="#F5B594"/><rect x="499.4" y="657" width="9.2" height="9.2" fill="#F5B594"/><rect x="502.9" y="666" width="2.2" height="14" fill="#F5B594"/><ellipse cx="504" cy="699.0" rx="3.7" ry="7.5" fill="#F7D21E"/><path d="M502 694.5 L502.8 683.5 H505.2 L506 694.5Z" fill="#F7D21E"/><circle cx="517" cy="662.5" r="5.5" fill="#5BB5C2"/><circle cx="517" cy="701.0" r="5.5" fill="#5BB5C2"/><ellipse cx="517" cy="681.75" rx="4.2" ry="15.5" fill="none" stroke="#5BB5C2" stroke-width="2.6"/><circle cx="530.5" cy="662.5" r="5.5" fill="#5BB5C2"/><path d="M527.9 665.5 Q525.7 672.5 526.2 681.5 M533.1 665.5 Q535.3 672.5 534.8 681.5" fill="none" stroke="#5BB5C2" stroke-width="2.6" stroke-linecap="round"/><rect x="525.9" y="697.3" width="9.2" height="9.2" fill="#F5B594"/><rect x="529.4" y="683.5" width="2.2" height="14" fill="#F5B594"/><ellipse cx="542.5" cy="664.5" rx="3.7" ry="7.5" fill="#F7D21E"/><path d="M540.5 669 L541.3 680 H543.7 L544.5 669Z" fill="#F7D21E"/><circle cx="542.5" cy="701.0" r="5.5" fill="#5BB5C2"/><path d="M539.9 698.0 Q537.7 691.0 538.2 682.0 M545.1 698.0 Q547.3 691.0 546.8 682.0" fill="none" stroke="#5BB5C2" stroke-width="2.6" stroke-linecap="round"/><circle cx="554.7" cy="662.5" r="5.5" fill="#5BB5C2"/><circle cx="554.7" cy="701.0" r="5.5" fill="#5BB5C2"/><ellipse cx="554.7" cy="681.75" rx="4.2" ry="15.5" fill="none" stroke="#5BB5C2" stroke-width="2.6"/><ellipse cx="566.6" cy="664.5" rx="3.7" ry="7.5" fill="#F7D21E"/><path d="M564.6 669 L565.4 680 H567.8000000000001 L568.6 669Z" fill="#F7D21E"/><rect x="562.0" y="697.3" width="9.2" height="9.2" fill="#F5B594"/><rect x="565.5" y="683.5" width="2.2" height="14" fill="#F5B594"/><rect x="574.4" y="657" width="9.2" height="9.2" fill="#F5B594"/><rect x="577.9" y="666" width="2.2" height="14" fill="#F5B594"/><ellipse cx="579" cy="699.0" rx="3.7" ry="7.5" fill="#F7D21E"/><path d="M577 694.5 L577.8 683.5 H580.2 L581 694.5Z" fill="#F7D21E"/><circle cx="590.7" cy="662.5" r="5.5" fill="#5BB5C2"/><circle cx="590.7" cy="701.0" r="5.5" fill="#5BB5C2"/><ellipse cx="590.7" cy="681.75" rx="4.2" ry="15.5" fill="none" stroke="#5BB5C2" stroke-width="2.6"/><circle cx="604" cy="662.5" r="5.5" fill="#5BB5C2"/><path d="M601.4 665.5 Q599.2 672.5 599.7 681.5 M606.6 665.5 Q608.8 672.5 608.3 681.5" fill="none" stroke="#5BB5C2" stroke-width="2.6" stroke-linecap="round"/><ellipse cx="604" cy="699.0" rx="3.7" ry="7.5" fill="#F7D21E"/><path d="M602 694.5 L602.8 683.5 H605.2 L606 694.5Z" fill="#F7D21E"/><rect x="612.4" y="657" width="9.2" height="9.2" fill="#F5B594"/><rect x="615.9" y="666" width="2.2" height="14" fill="#F5B594"/><circle cx="617" cy="701.0" r="5.5" fill="#5BB5C2"/><path d="M614.4 698.0 Q612.2 691.0 612.7 682.0 M619.6 698.0 Q621.8 691.0 621.3 682.0" fill="none" stroke="#5BB5C2" stroke-width="2.6" stroke-linecap="round"/><circle cx="630.3" cy="662.5" r="5.5" fill="#5BB5C2"/><circle cx="630.3" cy="701.0" r="5.5" fill="#5BB5C2"/><ellipse cx="630.3" cy="681.75" rx="4.2" ry="15.5" fill="none" stroke="#5BB5C2" stroke-width="2.6"/><circle cx="643.8" cy="662.5" r="5.5" fill="#5BB5C2"/><circle cx="643.8" cy="701.0" r="5.5" fill="#5BB5C2"/><ellipse cx="643.8" cy="681.75" rx="4.2" ry="15.5" fill="none" stroke="#5BB5C2" stroke-width="2.6"/><circle cx="656.7" cy="662.5" r="5.5" fill="#5BB5C2"/><path d="M654.1 665.5 Q651.9000000000001 672.5 652.4000000000001 681.5 M659.3000000000001 665.5 Q661.5 672.5 661.0 681.5" fill="none" stroke="#5BB5C2" stroke-width="2.6" stroke-linecap="round"/><rect x="652.1" y="697.3" width="9.2" height="9.2" fill="#F5B594"/><rect x="655.6" y="683.5" width="2.2" height="14" fill="#F5B594"/><ellipse cx="669.7" cy="664.5" rx="3.7" ry="7.5" fill="#F7D21E"/><path d="M667.7 669 L668.5 680 H670.9000000000001 L671.7 669Z" fill="#F7D21E"/><circle cx="669.7" cy="701.0" r="5.5" fill="#5BB5C2"/><path d="M667.1 698.0 Q664.9000000000001 691.0 665.4000000000001 682.0 M672.3000000000001 698.0 Q674.5 691.0 674.0 682.0" fill="none" stroke="#5BB5C2" stroke-width="2.6" stroke-linecap="round"/><circle cx="680" cy="662.5" r="5.5" fill="#5BB5C2"/><path d="M677.4 665.5 Q675.2 672.5 675.7 681.5 M682.6 665.5 Q684.8 672.5 684.3 681.5" fill="none" stroke="#5BB5C2" stroke-width="2.6" stroke-linecap="round"/><circle cx="680" cy="701.0" r="5.5" fill="#5BB5C2"/><path d="M677.4 698.0 Q675.2 691.0 675.7 682.0 M682.6 698.0 Q684.8 691.0 684.3 682.0" fill="none" stroke="#5BB5C2" stroke-width="2.6" stroke-linecap="round"/><circle cx="445" cy="717.5" r="5.5" fill="#5BB5C2"/><path d="M442.4 720.5 Q440.2 727.5 440.7 736.5 M447.6 720.5 Q449.8 727.5 449.3 736.5" fill="none" stroke="#5BB5C2" stroke-width="2.6" stroke-linecap="round"/><circle cx="445" cy="756.0" r="5.5" fill="#5BB5C2"/><path d="M442.4 753.0 Q440.2 746.0 440.7 737.0 M447.6 753.0 Q449.8 746.0 449.3 737.0" fill="none" stroke="#5BB5C2" stroke-width="2.6" stroke-linecap="round"/><circle cx="454" cy="717.5" r="5.5" fill="#5BB5C2"/><path d="M451.4 720.5 Q449.2 727.5 449.7 736.5 M456.6 720.5 Q458.8 727.5 458.3 736.5" fill="none" stroke="#5BB5C2" stroke-width="2.6" stroke-linecap="round"/><circle cx="454" cy="756.0" r="5.5" fill="#5BB5C2"/><path d="M451.4 753.0 Q449.2 746.0 449.7 737.0 M456.6 753.0 Q458.8 746.0 458.3 737.0" fill="none" stroke="#5BB5C2" stroke-width="2.6" stroke-linecap="round"/><ellipse cx="467" cy="719.5" rx="3.7" ry="7.5" fill="#F7D21E"/><path d="M465 724 L465.8 735 H468.2 L469 724Z" fill="#F7D21E"/><circle cx="467" cy="756.0" r="5.5" fill="#5BB5C2"/><path d="M464.4 753.0 Q462.2 746.0 462.7 737.0 M469.6 753.0 Q471.8 746.0 471.3 737.0" fill="none" stroke="#5BB5C2" stroke-width="2.6" stroke-linecap="round"/><circle cx="480" cy="717.5" r="5.5" fill="#5BB5C2"/><circle cx="480" cy="756.0" r="5.5" fill="#5BB5C2"/><ellipse cx="480" cy="736.75" rx="4.2" ry="15.5" fill="none" stroke="#5BB5C2" stroke-width="2.6"/><ellipse cx="492" cy="719.5" rx="3.7" ry="7.5" fill="#F7D21E"/><path d="M490 724 L490.8 735 H493.2 L494 724Z" fill="#F7D21E"/><rect x="487.4" y="752.3" width="9.2" height="9.2" fill="#F5B594"/><rect x="490.9" y="738.5" width="2.2" height="14" fill="#F5B594"/><rect x="499.4" y="712" width="9.2" height="9.2" fill="#F5B594"/><rect x="502.9" y="721" width="2.2" height="14" fill="#F5B594"/><ellipse cx="504" cy="754.0" rx="3.7" ry="7.5" fill="#F7D21E"/><path d="M502 749.5 L502.8 738.5 H505.2 L506 749.5Z" fill="#F7D21E"/><circle cx="517" cy="717.5" r="5.5" fill="#5BB5C2"/><circle cx="517" cy="756.0" r="5.5" fill="#5BB5C2"/><ellipse cx="517" cy="736.75" rx="4.2" ry="15.5" fill="none" stroke="#5BB5C2" stroke-width="2.6"/><circle cx="530.5" cy="717.5" r="5.5" fill="#5BB5C2"/><path d="M527.9 720.5 Q525.7 727.5 526.2 736.5 M533.1 720.5 Q535.3 727.5 534.8 736.5" fill="none" stroke="#5BB5C2" stroke-width="2.6" stroke-linecap="round"/><ellipse cx="530.5" cy="754.0" rx="3.7" ry="7.5" fill="#F7D21E"/><path d="M528.5 749.5 L529.3 738.5 H531.7 L532.5 749.5Z" fill="#F7D21E"/><rect x="537.9" y="712" width="9.2" height="9.2" fill="#F5B594"/><rect x="541.4" y="721" width="2.2" height="14" fill="#F5B594"/><circle cx="542.5" cy="756.0" r="5.5" fill="#5BB5C2"/><path d="M539.9 753.0 Q537.7 746.0 538.2 737.0 M545.1 753.0 Q547.3 746.0 546.8 737.0" fill="none" stroke="#5BB5C2" stroke-width="2.6" stroke-linecap="round"/><circle cx="554.7" cy="717.5" r="5.5" fill="#5BB5C2"/><circle cx="554.7" cy="756.0" r="5.5" fill="#5BB5C2"/><ellipse cx="554.7" cy="736.75" rx="4.2" ry="15.5" fill="none" stroke="#5BB5C2" stroke-width="2.6"/><ellipse cx="566.6" cy="719.5" rx="3.7" ry="7.5" fill="#F7D21E"/><path d="M564.6 724 L565.4 735 H567.8000000000001 L568.6 724Z" fill="#F7D21E"/><rect x="562.0" y="752.3" width="9.2" height="9.2" fill="#F5B594"/><rect x="565.5" y="738.5" width="2.2" height="14" fill="#F5B594"/><rect x="574.4" y="712" width="9.2" height="9.2" fill="#F5B594"/><rect x="577.9" y="721" width="2.2" height="14" fill="#F5B594"/><ellipse cx="579" cy="754.0" rx="3.7" ry="7.5" fill="#F7D21E"/><path d="M577 749.5 L577.8 738.5 H580.2 L581 749.5Z" fill="#F7D21E"/><circle cx="590.7" cy="717.5" r="5.5" fill="#5BB5C2"/><circle cx="590.7" cy="756.0" r="5.5" fill="#5BB5C2"/><ellipse cx="590.7" cy="736.75" rx="4.2" ry="15.5" fill="none" stroke="#5BB5C2" stroke-width="2.6"/><circle cx="604" cy="717.5" r="5.5" fill="#5BB5C2"/><path d="M601.4 720.5 Q599.2 727.5 599.7 736.5 M606.6 720.5 Q608.8 727.5 608.3 736.5" fill="none" stroke="#5BB5C2" stroke-width="2.6" stroke-linecap="round"/><ellipse cx="604" cy="754.0" rx="3.7" ry="7.5" fill="#F7D21E"/><path d="M602 749.5 L602.8 738.5 H605.2 L606 749.5Z" fill="#F7D21E"/><rect x="612.4" y="712" width="9.2" height="9.2" fill="#F5B594"/><rect x="615.9" y="721" width="2.2" height="14" fill="#F5B594"/><circle cx="617" cy="756.0" r="5.5" fill="#5BB5C2"/><path d="M614.4 753.0 Q612.2 746.0 612.7 737.0 M619.6 753.0 Q621.8 746.0 621.3 737.0" fill="none" stroke="#5BB5C2" stroke-width="2.6" stroke-linecap="round"/><circle cx="630.3" cy="717.5" r="5.5" fill="#5BB5C2"/><circle cx="630.3" cy="756.0" r="5.5" fill="#5BB5C2"/><ellipse cx="630.3" cy="736.75" rx="4.2" ry="15.5" fill="none" stroke="#5BB5C2" stroke-width="2.6"/><ellipse cx="643.8" cy="719.5" rx="3.7" ry="7.5" fill="#F7D21E"/><path d="M641.8 724 L642.5999999999999 735 H645.0 L645.8 724Z" fill="#F7D21E"/><rect x="639.1999999999999" y="752.3" width="9.2" height="9.2" fill="#F5B594"/><rect x="642.6999999999999" y="738.5" width="2.2" height="14" fill="#F5B594"/><rect x="652.1" y="712" width="9.2" height="9.2" fill="#F5B594"/><rect x="655.6" y="721" width="2.2" height="14" fill="#F5B594"/><ellipse cx="656.7" cy="754.0" rx="3.7" ry="7.5" fill="#F7D21E"/><path d="M654.7 749.5 L655.5 738.5 H657.9000000000001 L658.7 749.5Z" fill="#F7D21E"/><circle cx="669.7" cy="717.5" r="5.5" fill="#5BB5C2"/><path d="M667.1 720.5 Q664.9000000000001 727.5 665.4000000000001 736.5 M672.3000000000001 720.5 Q674.5 727.5 674.0 736.5" fill="none" stroke="#5BB5C2" stroke-width="2.6" stroke-linecap="round"/><circle cx="669.7" cy="756.0" r="5.5" fill="#5BB5C2"/><path d="M667.1 753.0 Q664.9000000000001 746.0 665.4000000000001 737.0 M672.3000000000001 753.0 Q674.5 746.0 674.0 737.0" fill="none" stroke="#5BB5C2" stroke-width="2.6" stroke-linecap="round"/><circle cx="680" cy="717.5" r="5.5" fill="#5BB5C2"/><path d="M677.4 720.5 Q675.2 727.5 675.7 736.5 M682.6 720.5 Q684.8 727.5 684.3 736.5" fill="none" stroke="#5BB5C2" stroke-width="2.6" stroke-linecap="round"/><circle cx="680" cy="756.0" r="5.5" fill="#5BB5C2"/><path d="M677.4 753.0 Q675.2 746.0 675.7 737.0 M682.6 753.0 Q684.8 746.0 684.3 737.0" fill="none" stroke="#5BB5C2" stroke-width="2.6" stroke-linecap="round"/></g></g><rect x="423.5" y="535.5" width="173" height="26" fill="#ffffff" fill-opacity="0.9" stroke="#7E8A90" stroke-width="1"/><text x="430.5" y="553.6" font-family="Liberation Sans" font-size="20.4" fill="#2A9BC8" stroke="#2A9BC8" stroke-width="0.35">Moisture retention</text><rect x="591.5" y="775.5" width="99" height="24" fill="#FDFAF9" stroke="#8C7F80" stroke-width="1"/><text x="597.5" y="792.3" font-family="Liberation Sans" font-size="20" fill="#3A9BAB" stroke="#3A9BAB" stroke-width="0.5">Skin lipids</text><polygon points="490.0,357.6 493.9,364.0 500.8,361.1 500.2,368.6 507.5,370.3 502.6,376.0 507.5,381.7 500.2,383.4 500.8,390.9 493.9,388.0 490.0,394.4 486.1,388.0 479.2,390.9 479.8,383.4 472.5,381.7 477.4,376.0 472.5,370.3 479.8,368.6 479.2,361.1 486.1,364.0" fill="#8C23AA"/><polygon points="458.0,383.4 460.7,387.8 465.5,385.8 465.1,391.0 470.2,392.2 466.8,396.2 470.2,400.2 465.1,401.4 465.5,406.6 460.7,404.6 458.0,409.0 455.3,404.6 450.5,406.6 450.9,401.4 445.8,400.2 449.2,396.2 445.8,392.2 450.9,391.0 450.5,385.8 455.3,387.8" fill="#9A8574"/><text x="529" y="393.2" font-family="Liberation Sans" font-size="20" fill="#DE4760" stroke="#DE4760" stroke-width="0.35">External stimuli</text><rect x="79.5" y="291.5" width="316" height="525" fill="none" stroke="#A6D6F2" stroke-width="1"/><rect x="404.5" y="291.5" width="316" height="525" fill="none" stroke="#A6D6F2" stroke-width="1"/><text transform="translate(400.5 86.9) scale(1.105 1)" x="0" y="0" text-anchor="middle" font-family="Liberation Serif" font-size="34" fill="#113C74" stroke="#113C74" stroke-width="0.6">Mechanism</text><text x="400.7" y="178.8" text-anchor="middle" font-family="Liberation Sans" font-weight="bold" font-size="50" letter-spacing="0.37" fill="#fff">The Importance of</text><text x="400.5" y="238.8" text-anchor="middle" font-family="Liberation Sans" font-weight="bold" font-size="50" fill="#fff">a Healthy Skin Barrier</text><text x="398" y="879.4" text-anchor="middle" font-family="Liberation Sans" font-weight="bold" font-size="26" fill="#fff">These key components help strengthen the skin barrier</text><text x="398" y="916.2" text-anchor="middle" font-family="Liberation Sans" font-weight="bold" font-size="26" letter-spacing="0.1" fill="#fff">weakened by dryness and external aggressors</text><g fill="none" stroke="#0950A6" stroke-width="5.2" stroke-linecap="butt">
<path d="M345.9 991.9 A12.9 12.9 0 1 0 345.9 1010.1"/>
<circle cx="368.5" cy="1001" r="13.1"/>
<path d="M410.5 992.5 C409 989.5 405.5 988.1 402.3 988.1 C397.5 988.1 394.2 990.8 394.2 994.5 C394.2 998.5 398 999.8 402.3 1000.8 C407 1001.9 411 1003.3 411 1007.3 C411 1011.2 407.3 1013.9 402.3 1013.9 C398.5 1013.9 395 1012 393.3 1009"/>
<path d="M425.2 1016.5 V988.1 H434 C440.5 988.1 442.4 991 442.4 995.3 C442.4 999.6 440.5 1002.5 434 1002.5 H425.2 M435.5 1002.5 L443.3 1016.5"/>
<path d="M452 985.5 L474.5 1016.5 M474.5 985.5 L452 1016.5"/>
</g>
</svg>
</body></html>
